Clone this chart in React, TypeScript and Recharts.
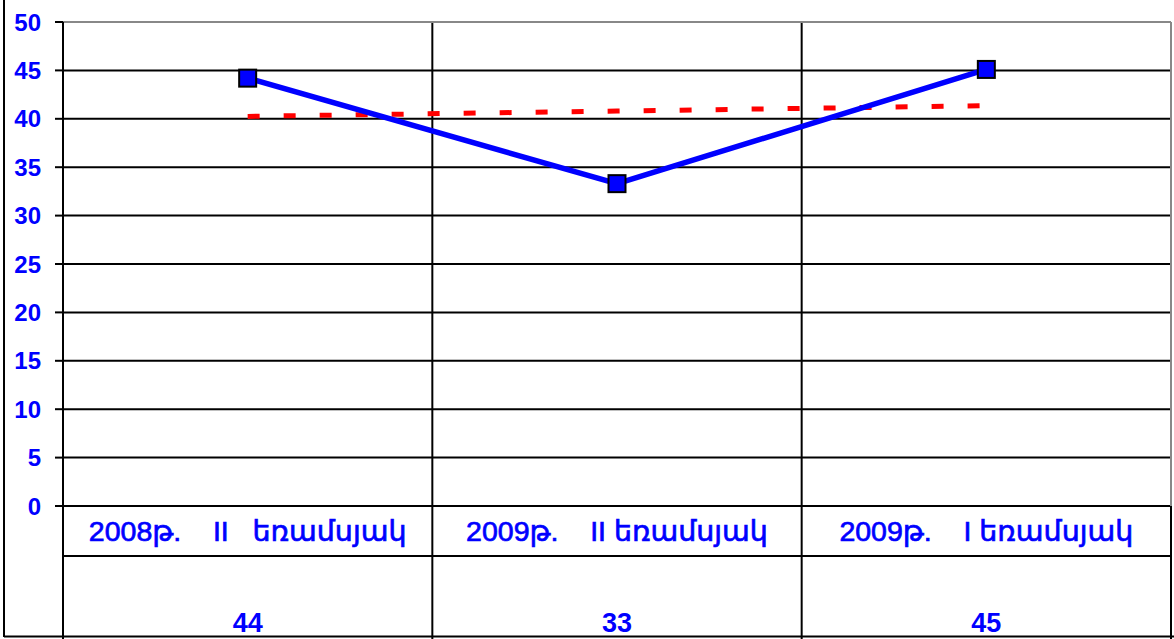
import React from "react";
import {
  LineChart,
  Line,
  XAxis,
  YAxis,
  CartesianGrid,
  ReferenceLine,
} from "recharts";

/* ── Data ───────────────────────────────────────────────────── */

const categories = [
  "2008թ.    II   եռամսյակ",
  "2009թ.    II եռամսյակ",
  "2009թ.    I եռամսյակ",
];
const seriesValues = [44.2, 33.3, 45.1];
const trendValues = [40.25, 40.8, 41.35];
const tableValues = ["44", "33", "45"];
const yTicks = [0, 5, 10, 15, 20, 25, 30, 35, 40, 45, 50];

const data = categories.map((c, i) => ({
  cat: c,
  value: seriesValues[i],
  trend: trendValues[i],
  table: tableValues[i],
}));

/* ── Layout ─────────────────────────────────────────────────── */

const W = 1174;
const H = 639;
const MARGIN = { top: 22, right: 3, left: 0, bottom: 0 };
const Y_AXIS_W = 63;
const X_AXIS_H = 133;
const PLOT_W = W - MARGIN.left - MARGIN.right - Y_AXIS_W;
const BAND = PLOT_W / categories.length;
const AXIS_Y = H - MARGIN.bottom - X_AXIS_H;
const BLUE = "#0000FF";
const FONT = '"Liberation Sans", Arial, "DejaVu Sans", sans-serif';

/* ── Helpers ────────────────────────────────────────────────── */

function SquareDot(props: any) {
  const { cx, cy } = props;
  if (cx == null || cy == null) return null;
  const s = 17;
  return (
    <rect
      x={cx - s / 2}
      y={cy - s / 2}
      width={s}
      height={s}
      fill={BLUE}
      stroke="#000"
      strokeWidth={2}
    />
  );
}

/* Category + data-table cell below the axis */
function TableTick(props: any) {
  const { x, index, payload } = props;
  const left = x - BAND / 2;
  const right = x + BAND / 2;
  const isLast = index === categories.length - 1;
  return (
    <g>
      {index === 0 && (
        <>
          <line x1={4} y1={0} x2={4} y2={H - 2} stroke="#000" strokeWidth={2} />
          <line x1={4} y1={H - 2.5} x2={W} y2={H - 2.5} stroke="#000" strokeWidth={2} />
          <line x1={left} y1={AXIS_Y} x2={left} y2={H} stroke="#000" strokeWidth={2} />
        </>
      )}
      {isLast && (
        <line x1={right} y1={MARGIN.top} x2={right} y2={AXIS_Y} stroke="#888" strokeWidth={2} />
      )}
      <line x1={right} y1={AXIS_Y} x2={right} y2={H} stroke="#000" strokeWidth={2} />
      <line x1={left} y1={AXIS_Y + 50} x2={right} y2={AXIS_Y + 50} stroke="#000" strokeWidth={2} />
      <text
        x={x}
        y={AXIS_Y + 35}
        textAnchor="middle"
        fill={BLUE}
        stroke={BLUE}
        strokeWidth={0.7}
        fontSize={28.5}
        fontFamily={FONT}
        style={{ whiteSpace: "pre" }}
      >
        {payload.value}
      </text>
      <text
        x={x}
        y={AXIS_Y + 126}
        textAnchor="middle"
        fill={BLUE}
        fontSize={27}
        fontWeight="bold"
        fontFamily={FONT}
      >
        {tableValues[index]}
      </text>
    </g>
  );
}

/* ── Component ──────────────────────────────────────────────── */

export default function App() {
  return (
    <div style={{ position: "absolute", left: 0, top: 0, width: W, height: H, background: "#fff" }}>
      <LineChart width={W} height={H} data={data} margin={MARGIN}>
        <CartesianGrid
          stroke="#000"
          strokeWidth={2}
          verticalCoordinatesGenerator={({ offset }: any) =>
            [1, 2].map((i) => offset.left + i * BAND)
          }
        />
        <ReferenceLine y={50} stroke="#888" strokeWidth={2} />
        <XAxis
          dataKey="cat"
          interval={0}
          height={X_AXIS_H}
          padding={{ left: BAND / 2, right: BAND / 2 }}
          tickLine={false}
          axisLine={{ stroke: "#000", strokeWidth: 2 }}
          tick={<TableTick />}
        />
        <YAxis
          width={Y_AXIS_W}
          domain={[0, 50]}
          ticks={yTicks}
          interval={0}
          tickSize={8}
          tickMargin={14}
          tickLine={{ stroke: "#000", strokeWidth: 2 }}
          axisLine={{ stroke: "#000", strokeWidth: 2 }}
          tick={{ fill: BLUE, fontSize: 24, fontWeight: "bold", fontFamily: FONT }}
        />
        <Line
          dataKey="trend"
          stroke="#FF0000"
          strokeWidth={5}
          strokeDasharray="12 24"
          dot={false}
          activeDot={false}
          isAnimationActive={false}
        />
        <Line
          dataKey="value"
          stroke={BLUE}
          strokeWidth={5.5}
          dot={<SquareDot />}
          activeDot={false}
          isAnimationActive={false}
        />
      </LineChart>
    </div>
  );
}
